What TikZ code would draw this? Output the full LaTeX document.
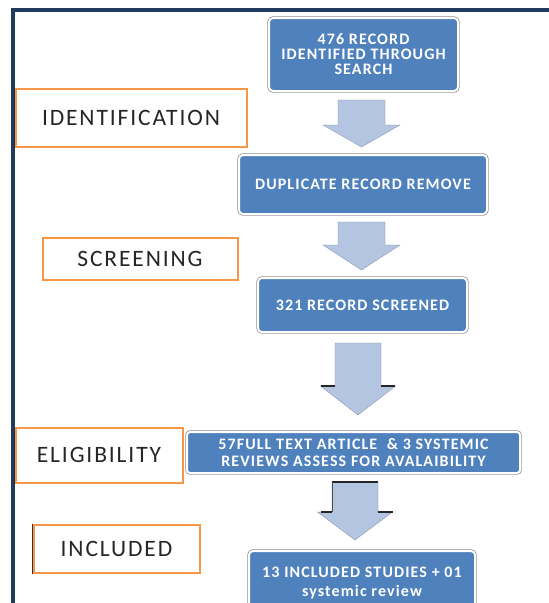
\documentclass[tikz,border=0pt]{standalone}
\usepackage{fontspec}
\setmainfont{Carlito}
\newfontfamily\lblfont[LetterSpace=8]{Carlito}
\newfontfamily\boxfont[LetterSpace=7]{Carlito}
\definecolor{navy}{HTML}{1F3B5E}
\definecolor{obar}{HTML}{F79646}
\definecolor{bfill}{HTML}{4F81BD}
\definecolor{afill}{HTML}{B4C5E2}
\tikzset{
  bluebox/.style={rounded corners=4pt, fill=bfill, draw=white, line width=2pt,
    text=white, font=\boxfont\bfseries\fontsize{16}{17.5}\selectfont, align=center,
    preaction={draw=black!45, line width=3.4pt, rounded corners=5pt}},
  stagebox/.style={draw=obar, line width=2pt, fill=white, text=black!85,
    font=\lblfont\fontsize{23.5}{26}\selectfont},
  blockarrow/.style={fill=afill, draw=afill!70!black, line width=0.3pt}
}
\begin{document}
\begin{tikzpicture}[x=1pt,y=-1pt]
\useasboundingbox (0,0) rectangle (549,603);
\clip (0,0) rectangle (549,603);
\fill[white] (0,0) rectangle (549,603);
% frame
\draw[navy, line width=3.5pt] (13,603) -- (13,10) -- (552,10);
% stage boxes
\node[stagebox, minimum width=231pt, minimum height=58pt] (ident) at (131,117.5) {IDENTIFICATION};
\draw[navy!80!black, line width=1.5pt] (ident.north west) -- (ident.south west);
\node[stagebox, minimum width=195pt, minimum height=42pt] (screen) at (140,258.5) {SCREENING};
\node[stagebox, minimum width=167pt, minimum height=55pt] (elig) at (99,455) {ELIGIBILITY};
\draw[navy!80!black, line width=1.5pt] (elig.north west) -- (elig.south west);
\node[stagebox, minimum width=166pt, minimum height=48pt] (incl) at (116.5,548.5) {INCLUDED};
\draw[black!80, line width=1.5pt] (incl.north west) -- (incl.south west);
% blue boxes
\node[bluebox, minimum width=189pt, minimum height=73pt] (b1) at (363.5,54.5) {476 RECORD\\[-2.5pt]IDENTIFIED THROUGH\\[-2.5pt]SEARCH};
\node[bluebox, minimum width=248pt, minimum height=59pt] (b2) at (363,184.5) {DUPLICATE RECORD REMOVE};
\node[bluebox, minimum width=209pt, minimum height=54pt] (b3) at (362.5,305) {321 RECORD SCREENED};
\node[bluebox, minimum width=333pt, minimum height=41pt, rounded corners=3pt] (b4) at (353.5,452.5) {57FULL TEXT ARTICLE \ \& 3 SYSTEMIC\\[-0.5pt]REVIEWS ASSESS FOR AVALAIBILITY};
\node[bluebox, minimum width=226pt, minimum height=64pt] (b5) at (362,583) {13 INCLUDED STUDIES + 01\\[2pt]systemic review};
% block arrows
\newcommand{\blkarrow}[7]{% cx, ytop, yshoulder, ytip, halfshaft, halfhead, name
  \fill[blockarrow] (#1-#5,#2) -- (#1+#5,#2) -- (#1+#5,#3) -- (#1+#6,#3) -- (#1,#4) -- (#1-#6,#3) -- (#1-#5,#3) -- cycle;
  \coordinate (#7) at (#1,#4);}
\blkarrow{361.5}{100}{125}{147}{23.5}{38.5}{a1}
\blkarrow{361.5}{222}{245}{270}{23.5}{38.5}{a2}
\blkarrow{358}{343}{386}{415}{23}{37.5}{a3}
\draw[black!85, line width=1.2pt] (321,386) -- (335,386) (381,386) -- (395,386);
\blkarrow{355}{482}{512}{540}{23}{37.5}{a4}
\draw[black!85, line width=1.2pt] (332,482) -- (378,482) (321,512) -- (332,512) (378,512) -- (393,512);
\draw[black!70, line width=0.6pt] (332,482) -- (332,512);
\end{tikzpicture}
\end{document}
